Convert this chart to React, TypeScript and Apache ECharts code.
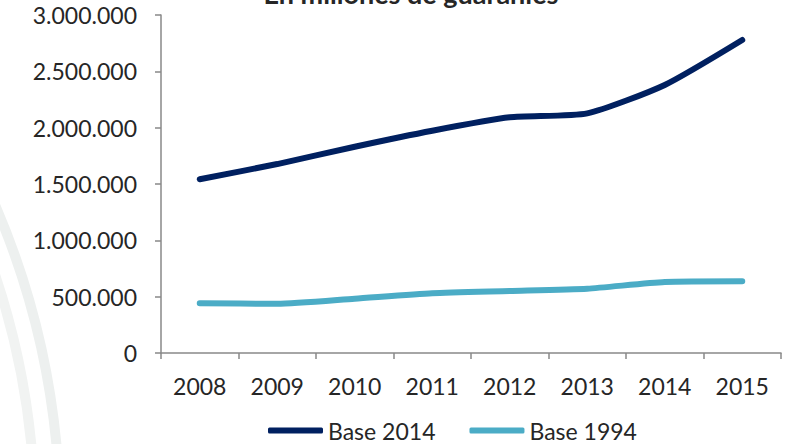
import React, { useEffect, useRef } from "react";
import * as echarts from "echarts";

const years = ["2008", "2009", "2010", "2011", "2012", "2013", "2014", "2015"];
const base2014 = [1542000, 1677000, 1831000, 1973000, 2092000, 2127000, 2379000, 2778000];
const base1994 = [441000, 437000, 482000, 530000, 550000, 571000, 630000, 636000];
const seriesNames = ["Base 2014", "Base 1994"];
const titleText = "En millones de guaraníes";

const fmt = (v: number) => String(v).replace(/\B(?=(\d{3})+(?!\d))/g, ".");

export default function App() {
  const ref = useRef<HTMLDivElement>(null);
  useEffect(() => {
    if (!ref.current) return;
    const chart = echarts.init(ref.current, null, { renderer: "svg" });
    const textColor = "#262626";
    const axisColor = "#898989";
    const font = "Lato";
    chart.setOption({
      animation: false,
      backgroundColor: "#ffffff",
      graphic: [
        {
          type: "arc",
          silent: true,
          z: -10,
          shape: { cx: -737, cy: 520, r: 772, startAngle: -0.4, endAngle: -0.05 },
          style: { stroke: "#f1f3f2", lineWidth: 10, fill: "none" },
        },
        {
          type: "arc",
          silent: true,
          z: -10,
          shape: { cx: -737, cy: 520, r: 797, startAngle: -0.42, endAngle: -0.05 },
          style: { stroke: "#edf0ef", lineWidth: 10, fill: "none" },
        },
        {
          type: "text",
          x: 411,
          y: -7,
          style: {
            text: titleText,
            font: `bold 27px ${font}`,
            fill: textColor,
            align: "center",
            verticalAlign: "middle",
          },
        },
      ],
      grid: { left: 161, right: 7, top: 15, bottom: 91, containLabel: false },
      legend: {
        data: seriesNames,
        left: 263,
        top: 414,
        itemWidth: 55,
        itemHeight: 6,
        itemGap: 34,
        icon: "roundRect",
        textStyle: { fontFamily: font, fontSize: 23, color: textColor },
      },
      xAxis: {
        type: "category",
        data: years,
        boundaryGap: true,
        axisLine: { lineStyle: { color: axisColor, width: 1.5 } },
        axisTick: { show: true, length: 6, lineStyle: { color: axisColor, width: 1.5 } },
        axisLabel: { fontFamily: font, fontSize: 23, color: textColor, margin: 21 },
        splitLine: { show: false },
      },
      yAxis: {
        type: "value",
        min: 0,
        max: 3000000,
        interval: 500000,
        axisLine: { show: true, lineStyle: { color: axisColor, width: 1.5 } },
        axisTick: { show: true, length: 6, lineStyle: { color: axisColor, width: 1.5 } },
        axisLabel: {
          fontFamily: font,
          fontSize: 23,
          color: textColor,
          margin: 24,
          formatter: (v: number) => fmt(v),
        },
        splitLine: { show: false },
      },
      series: [
        {
          name: seriesNames[0],
          type: "line",
          data: base2014,
          symbol: "none",
          smooth: 0.2,
          color: "#002060",
          lineStyle: { width: 6, color: "#002060", cap: "round", join: "round" },
        },
        {
          name: seriesNames[1],
          type: "line",
          data: base1994,
          symbol: "none",
          smooth: 0.2,
          color: "#4BACC6",
          lineStyle: { width: 6, color: "#4BACC6", cap: "round", join: "round" },
        },
      ],
    });
    return () => chart.dispose();
  }, []);
  return (
    <div
      ref={ref}
      style={{ position: "absolute", left: 0, top: 0, width: 788, height: 444 }}
    />
  );
}
